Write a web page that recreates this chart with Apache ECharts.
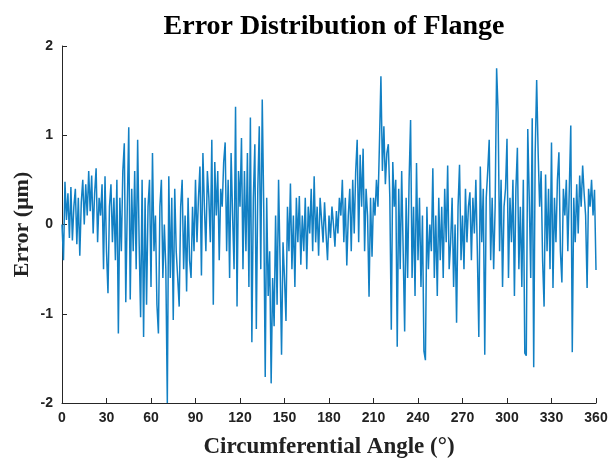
<!DOCTYPE html>
<html>
<head>
<meta charset="utf-8">
<script src="https://cdn.jsdelivr.net/npm/echarts@6/dist/echarts.min.js"></script>
<style>
    html, body { margin: 0; padding: 0; background: #fff; }
    #chart { width: 609px; height: 463px; }
</style>
</head>
<body>
<div id="chart"></div>
<script>
// error values, one per degree (0..360)
var errorValues = [
    0, -0.4, 0.48, 0.05, 0.35, -0.15, 0.42, -0.18, 0.2, 0.4,
    -0.22, 0.3, -0.35, 0.25, 0.5, 0.0, 0.45, 0.1, 0.6, 0.15,
    0.55, -0.1, 0.35, 0.63, -0.2, 0.3, 0.1, 0.45, -0.5, 0.54,
    -0.3, -0.77, 0.2, 0.45, -0.2, 0.3, -0.4, 0.5, -1.22, 0.3,
    -0.3, 0.6, 0.91, -0.87, 0.2, 1.09, -0.84, 0.4, -0.3, 0.6,
    -0.5, 0.95, -0.2, -1.04, 0.5, -1.26, 0.3, -0.9, 0.2, 0.5,
    -0.7, 0.8, -0.3, 0.1, -0.9, -1.22, 0.2, 0.5, -0.6, 0.0,
    -0.5, -2.0, 0.54, -0.6, 0.3, -1.07, 0.4, -0.3, -0.6, -0.92,
    0.2, 0.5, -0.5, 0.1, -0.75, 0.3, -0.4, -0.6, 0.2, -0.3,
    0.5, -0.2, 0.3, 0.65, -0.57, 0.8, 0.2, -0.3, 0.6, 0.3,
    -0.2, 0.95, -0.9, 0.7, 0.1, 0.6, -0.4, 0.4, 0.2, 0.7,
    0.92, -0.3, 0.5, -0.6, 0.8, 0.1, -0.5, 1.32, -0.92, 0.6,
    0.2, 0.97, -0.5, 0.6, -0.3, 0.8, -0.7, 1.2, -1.32, 0.3,
    0.9, -1.17, 0.4, 1.1, -0.5, 1.4, 0.2, -1.71, 0.3, -0.8,
    -0.3, -1.78, -0.6, -1.14, 0.1, -0.9, 0.5, -0.4, -1.46, -0.2,
    -0.6, -1.08, 0.2, -0.3, 0.46, -0.5, 0.1, -0.7, 0.3, -0.2,
    0.32, -0.45, 0.1, -0.3, 0.3, -0.5, 0.2, -0.1, 0.4, -0.3,
    0.54, -0.2, 0.2, -0.35, 0.3, 0.05, -0.2, 0.25, -0.1, -0.4,
    0.1, -0.15, 0.2, 0.0, -0.25, 0.15, -0.1, 0.3, 0.1, 0.5,
    -0.2, 0.3, -0.46, 0.1, 0.4, -0.3, 0.5, -0.1, 0.6, 0.95,
    -0.2, 0.78, 0.2, 0.85, -0.3, 0.4, 0.1, -0.81, 0.3, -0.36,
    0.3, 0.1, 0.5, 0.2, 0.9, 1.66, 0.6, 1.1, 0.45, 0.8,
    0.9, 0.3, -1.18, 0.7, 0.2, 0.5, -1.37, 0.4, -0.5, 0.6,
    -0.3, -1.2, 0.3, -0.6, 0.5, 1.17, -0.6, 0.2, -0.8, 0.69,
    -0.4, 0.3, -0.7, 0.1, -1.42, -1.52, 0.2, -0.5, 0.0, -0.3,
    0.63, -0.6, 0.1, -0.8, 0.3, -0.4, 0.2, -0.6, 0.4, -0.2,
    0.66, -0.5, -0.2, 0.3, -0.7, 0.0, -1.1, 0.2, 0.67, -0.4,
    0.1, -0.5, 0.4, -0.2, 0.2, 0.36, -0.4, 0.3, -0.1, 0.5,
    -0.3, -1.26, 0.65, -0.2, 0.4, -1.46, 0.3, 0.6, 0.95, -0.4,
    0.3, -0.5, 0.2, 1.75, 1.26, -0.3, 0.5, -0.7, 0.2, 0.4,
    0.96, -0.6, 0.3, -0.2, 0.5, -0.8, 0.4, 0.86, -0.5, 0.2,
    -0.7, 0.5, -1.44, -1.47, 1.07, 0.3, -0.6, 1.19, -1.6, 0.8,
    1.62, 0.8, 0.2, 0.6, -0.4, -0.92, 0.56, -0.3, 0.4, -0.5,
    0.92, -0.71, 0.3, -0.2, 0.5, 0.81, -0.3, -0.65, 0.4, 0.1,
    0.5, -0.3, 0.4, 1.11, -1.43, 0.3, -0.2, 0.45, -0.1, 0.55,
    0.2, 0.66, 0.35, 0.1, -0.71, 0.4, 0.2, 0.5, 0.1, 0.39,
    -0.51
];
var angleStep = 1; // degrees between samples
var xTicks = [0, 30, 60, 90, 120, 150, 180, 210, 240, 270, 300, 330, 360];
var yTicks = [-2, -1, 0, 1, 2];

var lineData = errorValues.map(function(v, i) {
    return [i * angleStep, v];
});

var axisColor = '#262626';
var myCharts = echarts.init(document.getElementById('chart'));
var option = {
    animation: false,
    title: {
        text: 'Error Distribution of Flange',
        left: 329,
        textAlign: 'center',
        top: 8,
        textStyle: {
            fontFamily: 'Liberation Serif',
            fontWeight: 'bold',
            fontSize: 28,
            color: '#000'
        }
    },
    grid: { left: 62, right: 13, top: 46, bottom: 60, outerBoundsMode: 'none' },
    xAxis: {
        type: 'value',
        min: xTicks[0],
        max: xTicks[xTicks.length - 1],
        interval: xTicks[1] - xTicks[0],
        name: 'Circumferential Angle (°)',
        nameLocation: 'middle',
        nameGap: 33,
        nameTextStyle: {
            fontFamily: 'Liberation Serif',
            fontWeight: 'bold',
            fontSize: 23,
            color: '#222'
        },
        axisLine: { onZero: false, lineStyle: { color: axisColor, width: 1 } },
        axisTick: { inside: true, length: 5, lineStyle: { color: axisColor } },
        axisLabel: {
            margin: 8,
            fontFamily: 'Liberation Sans',
            fontWeight: 'bold',
            fontSize: 14,
            color: '#222'
        },
        splitLine: { show: false }
    },
    yAxis: {
        type: 'value',
        min: yTicks[0],
        max: yTicks[yTicks.length - 1],
        interval: yTicks[1] - yTicks[0],
        name: 'Error (μm)',
        nameLocation: 'middle',
        nameMoveOverlap: false,
        nameGap: 29,
        nameTextStyle: {
            fontFamily: 'Liberation Serif',
            fontWeight: 'bold',
            fontSize: 22,
            color: '#222'
        },
        axisLine: { show: true, onZero: false, lineStyle: { color: axisColor, width: 1 } },
        axisTick: { show: true, inside: true, length: 5, lineStyle: { color: axisColor } },
        axisLabel: {
            margin: 9,
            fontFamily: 'Liberation Sans',
            fontWeight: 'bold',
            fontSize: 14,
            color: '#222'
        },
        splitLine: { show: false }
    },
    series: [{
        type: 'line',
        data: lineData,
        showSymbol: false,
        symbol: 'none',
        lineStyle: { color: '#1280c4', width: 1.5 }
    }]
};
myCharts.setOption(option);
</script>
</body>
</html>
